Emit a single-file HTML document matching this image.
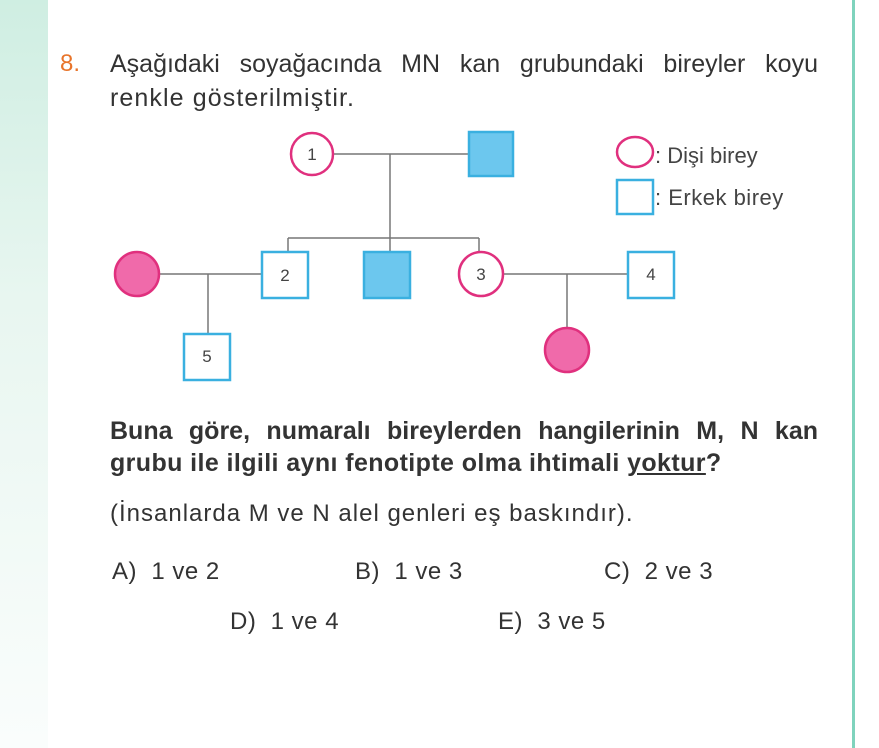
<!DOCTYPE html>
<html><head><meta charset="utf-8"><style>
body{margin:0;width:879px;height:748px;background:#fff;position:relative;overflow:hidden;font-family:"Liberation Sans",sans-serif;color:#333}
.strip{position:absolute;left:0;top:0;width:48px;height:748px;background:linear-gradient(180deg,#cfeee2 0%,#e8f6f0 40%,#fafdfc 100%)}
.vline{position:absolute;left:852px;top:0;width:3px;height:748px;background:#7fd3bd}
.t{position:absolute;white-space:nowrap;line-height:1}
.j{position:absolute;white-space:nowrap;line-height:1;text-align:justify;text-align-last:justify}
.o{position:absolute;white-space:nowrap;line-height:1;font-size:24px;letter-spacing:0.5px}
</style></head><body>
<div class="strip"></div><div class="vline"></div>
<div class="t" style="left:60px;top:52px;font-size:24px;color:#e8742a">8.</div>
<div class="j" style="left:110px;top:52px;width:708px;font-size:25px">Aşağıdaki soyağacında MN kan grubundaki bireyler koyu</div>
<div class="t" style="left:110px;top:86px;font-size:25px;letter-spacing:1.1px">renkle gösterilmiştir.</div>
<svg width="879" height="748" style="position:absolute;left:0;top:0" font-family="Liberation Sans, sans-serif">
<g stroke="#777" stroke-width="1.5" fill="none">
<line x1="333" y1="154" x2="469" y2="154"/><line x1="390" y1="154" x2="390" y2="238"/>
<line x1="288" y1="238" x2="479" y2="238"/><line x1="288" y1="238" x2="288" y2="252"/><line x1="479" y1="238" x2="479" y2="252"/><line x1="390" y1="238" x2="390" y2="252"/>
<line x1="160" y1="274" x2="262" y2="274"/><line x1="208" y1="274" x2="208" y2="334"/>
<line x1="503" y1="274" x2="628" y2="274"/><line x1="567" y1="274" x2="567" y2="328"/>
</g>
<g stroke="#e0307e" stroke-width="2.5">
<circle cx="312" cy="154" r="21" fill="#fff"/><circle cx="481" cy="274" r="22" fill="#fff"/>
<circle cx="137" cy="274" r="22" fill="#f06aaa"/><circle cx="567" cy="350" r="22" fill="#f06aaa"/>
<ellipse cx="635" cy="152" rx="18" ry="15" fill="#fff"/>
</g>
<g stroke="#3ab0e0" stroke-width="2.5">
<rect x="469" y="132" width="44" height="44" fill="#6cc7ee"/><rect x="364" y="252" width="46" height="46" fill="#6cc7ee"/>
<rect x="262" y="252" width="46" height="46" fill="#fff"/><rect x="628" y="252" width="46" height="46" fill="#fff"/>
<rect x="184" y="334" width="46" height="46" fill="#fff"/><rect x="617" y="180" width="36" height="34" fill="#fff"/>
</g>
<g font-size="17" fill="#444" text-anchor="middle">
<text x="312" y="160">1</text><text x="285" y="281">2</text><text x="481" y="280">3</text><text x="651" y="280">4</text><text x="207" y="362">5</text>
</g>
<text x="655" y="163" font-size="22" fill="#444">: Dişi birey</text>
<text x="655" y="205" font-size="22" fill="#444" letter-spacing="0.5">: Erkek birey</text>
</svg>
<div class="j" style="left:110px;top:419px;width:708px;font-size:25px;font-weight:bold">Buna göre, numaralı bireylerden hangilerinin M, N kan</div>
<div class="t" style="left:110px;top:451px;font-size:25px;font-weight:bold;letter-spacing:0.4px">grubu ile ilgili aynı fenotipte olma ihtimali <u>yoktur</u>?</div>
<div class="t" style="left:110px;top:502px;font-size:24px;letter-spacing:1px">(İnsanlarda M ve N alel genleri eş baskındır).</div>
<div class="o" style="left:112px;top:560px">A)&nbsp; 1 ve 2</div>
<div class="o" style="left:355px;top:560px">B)&nbsp; 1 ve 3</div>
<div class="o" style="left:604px;top:560px">C)&nbsp; 2 ve 3</div>
<div class="o" style="left:230px;top:610px">D)&nbsp; 1 ve 4</div>
<div class="o" style="left:498px;top:610px">E)&nbsp; 3 ve 5</div>
</body></html>
